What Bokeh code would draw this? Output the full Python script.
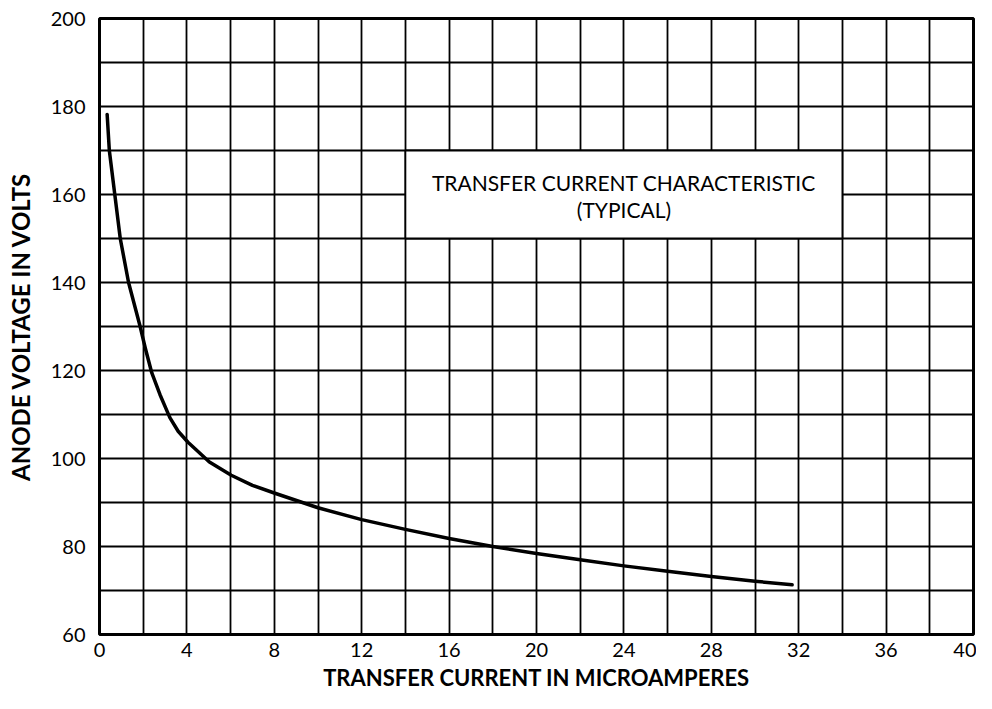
from bokeh.plotting import figure
from bokeh.models import SingleIntervalTicker, Range1d, Label
from bokeh.embed import file_html
from bokeh.resources import INLINE

# Data
current_ua = [0.35, 0.45, 0.7, 0.95, 1.33, 1.86, 2.1, 2.39, 2.77, 3.22, 3.6, 4.05, 5.03, 6.03, 7.0, 8.03,
              10.0, 12.0, 14.0, 16.0, 18.0, 20.0, 22.0, 24.0, 26.0, 28.0, 30.0, 31.7]
anode_volts = [178.2, 170.0, 160.0, 150.0, 140.0, 130.0, 125.0, 119.5, 114.5, 109.3, 106.2, 103.7, 99.2, 96.2, 93.9, 92.1,
               88.8, 86.1, 83.9, 81.8, 80.0, 78.4, 77.0, 75.6, 74.4, 73.2, 72.1, 71.3]

x_range = (0, 40)
y_range = (60, 200)
title_lines = ["TRANSFER CURRENT CHARACTERISTIC", "(TYPICAL)"]
x_label = "TRANSFER CURRENT IN MICROAMPERES"
y_label = "ANODE VOLTAGE IN VOLTS"

FONT = "Lato"

p = figure(width=976, height=693, output_backend="svg", toolbar_location=None,
           x_range=Range1d(*x_range), y_range=Range1d(*y_range),
           min_border_left=99, min_border_right=3, min_border_top=18, min_border_bottom=58)
p.background_fill_color = "white"
p.border_fill_color = "white"
p.outline_line_color = "black"
p.outline_line_width = 3

# Axes
p.xaxis.ticker = SingleIntervalTicker(interval=4)
p.yaxis.ticker = SingleIntervalTicker(interval=20)
for ax in (p.xaxis[0], p.yaxis[0]):
    ax.axis_line_color = None
    ax.major_tick_line_color = None
    ax.minor_tick_line_color = None
    ax.major_label_text_font = FONT
    ax.major_label_text_font_size = "20px"
    ax.major_label_text_color = "black"
    ax.axis_label_text_font = FONT
    ax.axis_label_text_font_style = "bold"
    ax.axis_label_text_color = "black"
p.xaxis.axis_label_text_font_size = "22px"
p.yaxis.axis_label_text_font_size = "24px"
p.xaxis.major_label_standoff = 2
p.yaxis.major_label_standoff = 8
p.xaxis.axis_label = x_label
p.yaxis.axis_label = y_label
p.xaxis.axis_label_standoff = 4
p.yaxis.axis_label_standoff = 13

# Grid
p.xgrid.ticker = SingleIntervalTicker(interval=2)
p.ygrid.ticker = SingleIntervalTicker(interval=10)
for g in (p.xgrid[0], p.ygrid[0]):
    g.grid_line_color = "black"
    g.grid_line_width = 1.8
    g.grid_line_alpha = 1.0

# White title box
p.quad(left=[14], right=[34], bottom=[150], top=[170],
       fill_color="white", line_color="black", line_width=1.8)
p.add_layout(Label(x=24, y=162.8, text=title_lines[0], text_align="center",
                   text_baseline="middle", text_font=FONT, text_font_size="21px",
                   text_color="black"))
p.add_layout(Label(x=24, y=156.7, text=title_lines[1], text_align="center",
                   text_baseline="middle", text_font=FONT, text_font_size="21px",
                   text_color="black"))

# Curve
p.line(current_ua, anode_volts, line_color="black", line_width=3.5,
       line_cap="round", line_join="round")

open("out.html", "w").write(file_html(p, INLINE))
